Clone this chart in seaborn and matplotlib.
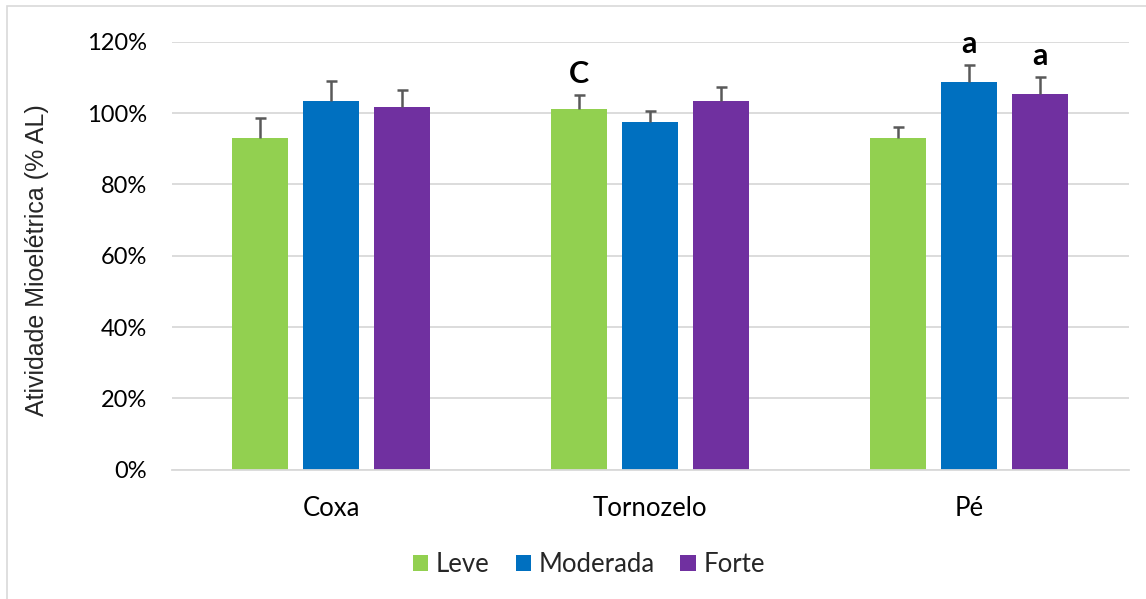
import matplotlib
matplotlib.use("Agg")
import matplotlib.pyplot as plt
import seaborn as sns
import pandas as pd
import numpy as np
from matplotlib.ticker import FuncFormatter
from matplotlib.patches import Rectangle

categories = ["Coxa", "Tornozelo", "Pé"]
series = ["Leve", "Moderada", "Forte"]
leve = [93.1, 101.1, 93.0]
moderada = [103.4, 97.6, 108.7]
forte = [101.8, 103.3, 105.3]
leve_err = [5.5, 3.9, 3.1]
moderada_err = [5.6, 3.0, 4.9]
forte_err = [4.6, 4.1, 5.0]
letters = {("Tornozelo", "Leve"): "C", ("Pé", "Moderada"): "a", ("Pé", "Forte"): "a"}
colors = ["#92D050", "#0070C0", "#7030A0"]

rows = []
for s, vals, errs in zip(series, [leve, moderada, forte], [leve_err, moderada_err, forte_err]):
    for c, v, e in zip(categories, vals, errs):
        rows.append({"Categoria": c, "Intensidade": s, "Valor": v, "Erro": e})
df = pd.DataFrame(rows)

sns.set_theme(style="white")
plt.rcParams['font.family'] = ['Lato', 'DejaVu Sans']

fig = plt.figure(figsize=(11.46, 5.99), dpi=100)
ax = fig.add_axes([0.150, 0.216, 0.835, 0.714])

sns.barplot(data=df, x="Categoria", y="Valor", hue="Intensidade", order=categories,
            hue_order=series, palette=colors, width=0.668, gap=0.21, errorbar=None,
            saturation=1, ax=ax, legend=True, linewidth=0)

cap_half = 0.018
for i, s in enumerate(series):
    cont = ax.containers[i]
    for j, c in enumerate(categories):
        bar = cont[j]
        xc = bar.get_x() + bar.get_width() / 2
        h = bar.get_height()
        e = df[(df.Categoria == c) & (df.Intensidade == s)]["Erro"].values[0]
        ax.vlines(xc, h, h + e, color="#595959", linewidth=1.8, zorder=5)
        ax.hlines(h + e, xc - cap_half, xc + cap_half, color="#595959", linewidth=1.8, zorder=5)
        if (c, s) in letters:
            ax.annotate(letters[(c, s)], (xc, h + e), xytext=(0, 5), textcoords="offset points",
                        ha="center", va="bottom", fontsize=22, fontweight="bold", color="black")

ax.set_ylim(0, 120)
ax.set_yticks(np.arange(0, 121, 20))
ax.yaxis.set_major_formatter(FuncFormatter(lambda v, p: f"{int(v)}%"))
ax.set_xlim(-0.5, 2.5)
ax.grid(axis="y", color="#d9d9d9", linewidth=1.3)
ax.set_axisbelow(True)
for sp in ["top", "right", "left"]:
    ax.spines[sp].set_visible(False)
ax.spines["bottom"].set_color("#d9d9d9")
ax.spines["bottom"].set_linewidth(1.3)
ax.tick_params(axis="both", length=0, colors="#000000")
ax.tick_params(axis="y", pad=18, labelsize=17)
ax.tick_params(axis="x", pad=19, labelsize=18.5)
ax.set_xlabel("")
ax.set_ylabel("Atividade Mioelétrica (% AL)", fontsize=18,
              family=["Liberation Sans", "DejaVu Sans"])
ax.yaxis.set_label_coords(-0.128, 0.49)

handles, labels = ax.get_legend_handles_labels()
ax.get_legend().remove()
fig.legend(handles, labels, loc="center", bbox_to_anchor=(0.514, 0.057),
           bbox_transform=fig.transFigure, ncol=3, frameon=False,
           fontsize=18.5, handlelength=0.6, handleheight=0.6, handletextpad=0.3,
           columnspacing=1.0)

fig.patches.append(Rectangle((0.006, -0.01), 0.999, 1.0, transform=fig.transFigure,
                             fill=False, edgecolor="#d9d9d9", linewidth=1.2))

fig.savefig("out.png", dpi=100)
